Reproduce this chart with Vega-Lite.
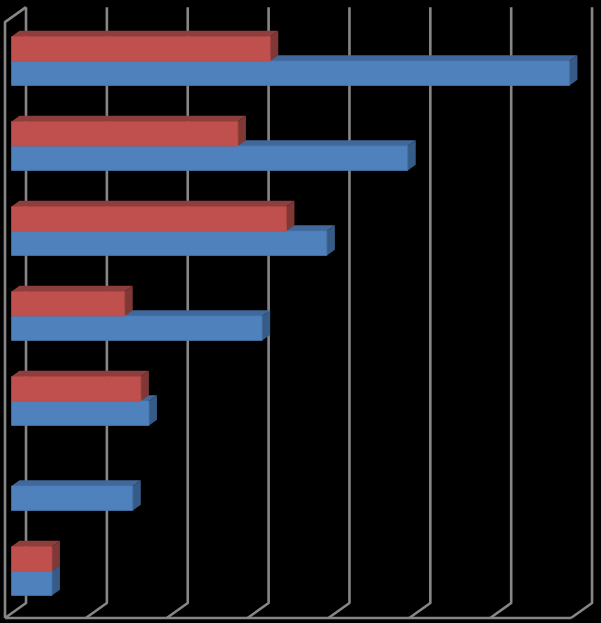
{"$schema":"https://vega.github.io/schema/vega-lite/v6.json","width":601,"height":623,"padding":0,"autosize":{"type":"fit","contains":"padding"},"background":"#000000","view":{"stroke":null},
"layer":[
{"data":{"values":[
{"edge":"g0","v":0,"depth":0,"up":0,"seq":1},{"edge":"g0","v":0,"depth":1,"up":0,"seq":2},{"edge":"g0","v":0,"depth":1,"up":1,"seq":3},
{"edge":"g1","v":1,"depth":0,"up":0,"seq":1},{"edge":"g1","v":1,"depth":1,"up":0,"seq":2},{"edge":"g1","v":1,"depth":1,"up":1,"seq":3},
{"edge":"g2","v":2,"depth":0,"up":0,"seq":1},{"edge":"g2","v":2,"depth":1,"up":0,"seq":2},{"edge":"g2","v":2,"depth":1,"up":1,"seq":3},
{"edge":"g3","v":3,"depth":0,"up":0,"seq":1},{"edge":"g3","v":3,"depth":1,"up":0,"seq":2},{"edge":"g3","v":3,"depth":1,"up":1,"seq":3},
{"edge":"g4","v":4,"depth":0,"up":0,"seq":1},{"edge":"g4","v":4,"depth":1,"up":0,"seq":2},{"edge":"g4","v":4,"depth":1,"up":1,"seq":3},
{"edge":"g5","v":5,"depth":0,"up":0,"seq":1},{"edge":"g5","v":5,"depth":1,"up":0,"seq":2},{"edge":"g5","v":5,"depth":1,"up":1,"seq":3},
{"edge":"g6","v":6,"depth":0,"up":0,"seq":1},{"edge":"g6","v":6,"depth":1,"up":0,"seq":2},{"edge":"g6","v":6,"depth":1,"up":1,"seq":3},
{"edge":"g7","v":7,"depth":0,"up":0,"seq":1},{"edge":"g7","v":7,"depth":1,"up":0,"seq":2},{"edge":"g7","v":7,"depth":1,"up":1,"seq":3},
{"edge":"wall","v":0,"depth":0,"up":0,"seq":1},{"edge":"wall","v":0,"depth":0,"up":1,"seq":2},{"edge":"wall","v":0,"depth":1,"up":1,"seq":3},
{"edge":"floor","v":0,"depth":0,"up":0,"seq":1},{"edge":"floor","v":7,"depth":0,"up":0,"seq":2}
]},
"transform":[{"calculate":"datum.v+0.26*datum.depth","as":"px"},{"calculate":"6.553-0.1765*datum.depth-7.01*datum.up","as":"py"}],
"mark":{"type":"line","stroke":"#868686","strokeWidth":2.6,"strokeJoin":"round","clip":false},
"encoding":{"x":{"field":"px","type":"quantitative","axis":null,"scale":{"domain":[-0.0618,7.3707],"nice":false,"zero":false}},"y":{"field":"py","type":"quantitative","axis":null,"scale":{"domain":[-0.7176,6.6118],"reverse":true,"nice":false,"zero":false}},"detail":{"field":"edge"},"order":{"field":"seq","type":"quantitative"}}},
{"data":{"values":[
{"group":1,"series":"Series1","value":6.9},{"group":2,"series":"Series1","value":4.9},{"group":3,"series":"Series1","value":3.9},{"group":4,"series":"Series1","value":3.1},{"group":5,"series":"Series1","value":1.7},{"group":6,"series":"Series1","value":1.5},{"group":7,"series":"Series1","value":0.5},
{"group":1,"series":"Series2","value":3.2},{"group":2,"series":"Series2","value":2.8},{"group":3,"series":"Series2","value":3.4},{"group":4,"series":"Series2","value":1.4},{"group":5,"series":"Series2","value":1.6},{"group":6,"series":"Series2","value":0},{"group":7,"series":"Series2","value":0.5}
]},
"transform":[
{"filter":"datum.value>0"},
{"calculate":"[0.31,0.69]","as":"depth"},{"flatten":["depth"]},
{"calculate":"datum.series+'-'+datum.group","as":"bar"},
{"calculate":"0.26*datum.depth","as":"x0"},
{"calculate":"datum.value+0.26*datum.depth","as":"x1"},
{"calculate":"datum.group-1-0.1765*(datum.depth-0.31)-(datum.series=='Series2'?0.288:0)","as":"yTop"},
{"calculate":"datum.yTop+0.288","as":"yBot"}
],
"resolve":{"scale":{"color":"independent"}},
"layer":[
{"mark":{"type":"area","orient":"horizontal"},
"encoding":{"y":{"field":"yTop","type":"quantitative","axis":null,"stack":null},"x":{"field":"x0","type":"quantitative","axis":null,"stack":null},"x2":{"field":"x1"},"detail":{"field":"bar"},"color":{"field":"series","type":"nominal","legend":null,"scale":{"domain":["Series1","Series2"],"range":["#41689A","#8E3E3C"]}}}},
{"mark":{"type":"area","orient":"vertical"},
"encoding":{"x":{"field":"x1","type":"quantitative","axis":null,"stack":null},"y":{"field":"yTop","type":"quantitative","axis":null,"stack":null},"y2":{"field":"yBot"},"detail":{"field":"bar"},"color":{"field":"series","type":"nominal","legend":null,"scale":{"domain":["Series1","Series2"],"range":["#375B87","#803836"]}}}},
{"transform":[{"filter":"datum.depth<0.5"}],"mark":{"type":"rect","strokeWidth":0.75,"stroke":"#4A7AB3"},
"encoding":{"x":{"field":"x0","type":"quantitative","axis":null},"x2":{"field":"x1"},"y":{"field":"yTop","type":"quantitative","axis":null},"y2":{"field":"yBot"},"color":{"field":"series","type":"nominal","legend":null,"scale":{"domain":["Series1","Series2"],"range":["#4F81BD","#C0504D"]}},"stroke":{"field":"series","type":"nominal","legend":null,"scale":{"domain":["Series1","Series2"],"range":["#4A7AB3","#B84C49"]}}}}
]}
]}
